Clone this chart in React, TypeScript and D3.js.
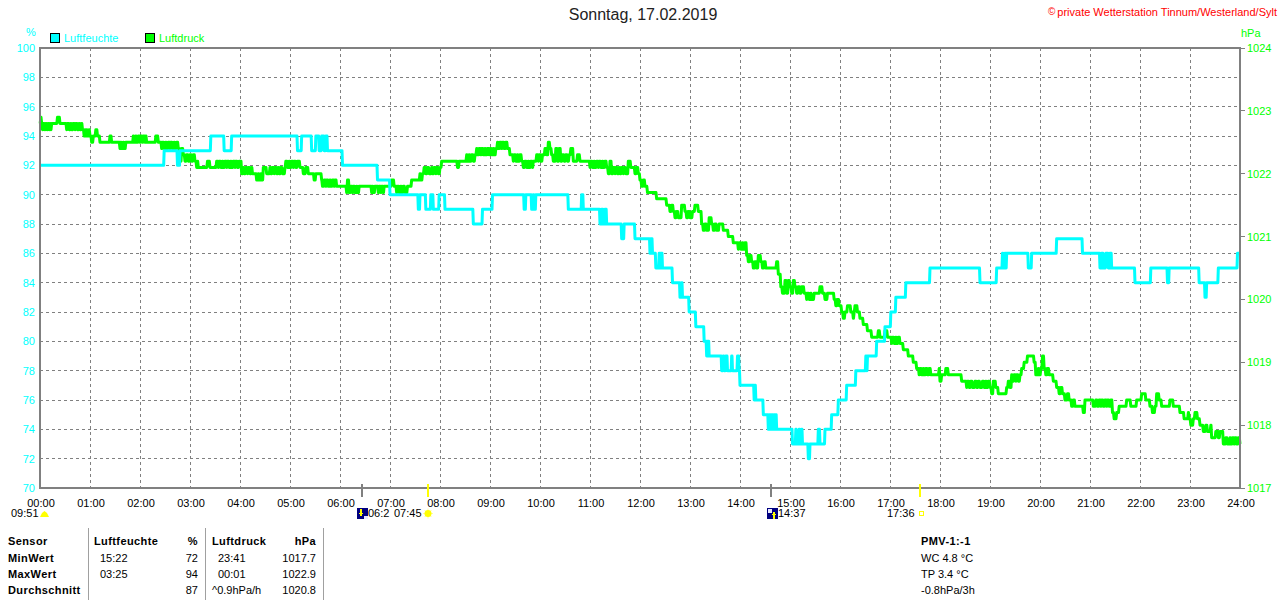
import React from "react";
import * as d3 from "d3";

const titleText = "Sonntag, 17.02.2019";
const creditText = "private Wetterstation Tinnum/Westerland/Sylt";
const hourLabels = ["00:00","01:00","02:00","03:00","04:00","05:00","06:00","07:00","08:00","09:00","10:00","11:00","12:00","13:00","14:00","15:00","16:00","17:00","18:00","19:00","20:00","21:00","22:00","23:00","24:00"];
const humidityTicks = [70,72,74,76,78,80,82,84,86,88,90,92,94,96,98,100];
const pressureTicks = [1017,1018,1019,1020,1021,1022,1023,1024];

// [minute of day, % relative humidity]
const humidity: [number, number][] = [
[0,92],[149,93],[165,92],[168,93],[205,94],[221,93],[230,94],[309,93],[314,94],[326,93],[331,94],[335,93],[338,94],[341,93],[343,94],[345,93],[363,92],[405,91],[420,90],
[454,89],[456,90],[463,89],[469,90],[472,89],[479,90],[486,89],[520,88],[531,89],[543,90],[581,89],[583,90],[590,89],[592,90],[593,89],[595,90],[634,89],[650,90],[652,89],
[672,88],[674,89],[676,88],[678,89],[680,88],[698,87],[701,88],[714,87],[732,86],[733,87],[735,86],[739,85],[743,86],[744,85],[745,86],[747,85],[759,84],[768,83],[770,84],[771,83],
[779,82],[787,81],[797,80],[800,79],[801,80],[803,79],[818,78],[820,79],[821,78],[823,79],[825,78],[830,79],[831,78],[834,78],[837,79],[839,78],[840,77],
[857,76],[858,77],[859,76],[868,75],[874,74],[875,75],[876,74],[877,75],[878,74],[879,75],[880,74],[881,75],[882,74],[883,75],[884,74],[903,73],[907,74],[908,73],[911,74],[912,73],[914,74],[915,73],
[922,72],[924,73],[934,74],[936,73],[942,74],[950,75],[958,76],[968,77],[979,78],[991,79],[992,78],[993,79],[1004,80],[1014,81],[1021,82],[1027,83],[1039,84],[1068,85],[1128,84],[1148,85],
[1155,86],[1156,85],[1158,86],[1159,85],[1160,86],[1186,85],[1190,86],[1220,87],[1251,86],[1272,85],[1274,86],[1276,85],[1279,86],[1282,85],[1284,86],[1286,85],[1314,84],[1333,85],[1353,84],[1355,85],
[1391,84],[1398,83],[1400,84],[1414,85],[1437,86],[1440,86],
];

// [minute of day, hPa]
const pressureEarly: [number, number][] = [
[0,1022.8],[1,1022.9],[2,1022.8],[3,1022.7],[4,1022.8],[5,1022.7],[6,1022.8],[7,1022.7],[8,1022.8],[9,1022.7],[10,1022.8],[11,1022.7],[12,1022.8],[13,1022.7],[14,1022.8],[21,1022.9],[24,1022.8],
[32,1022.7],[33,1022.8],[35,1022.7],[37,1022.8],[38,1022.7],[40,1022.8],[42,1022.7],[43,1022.8],[45,1022.7],[47,1022.8],[48,1022.7],[50,1022.8],[51,1022.7],[53,1022.6],[54,1022.7],[55,1022.6],[56,1022.7],[57,1022.6],[59,1022.7],[60,1022.6],
[62,1022.5],[64,1022.6],[67,1022.7],[69,1022.6],[72,1022.5],[84,1022.6],[86,1022.5],[96,1022.4],[97,1022.5],[98,1022.4],[100,1022.5],[101,1022.4],[103,1022.5],
[112,1022.6],[113,1022.5],[115,1022.6],[116,1022.5],[118,1022.6],[120,1022.5],[121,1022.6],[123,1022.5],[124,1022.6],[126,1022.5],[127,1022.6],[128,1022.5],[139,1022.6],[142,1022.5],
[146,1022.4],[147,1022.5],[149,1022.4],[151,1022.5],[152,1022.4],[154,1022.5],[156,1022.4],[157,1022.5],[159,1022.4],[161,1022.5],[162,1022.4],[164,1022.5],[166,1022.4],
[168,1022.2],[170,1022.4],[172,1022.3],[174,1022.2],[176,1022.3],[178,1022.2],[180,1022.3],[182,1022.2],[184,1022.3],[186,1022.2],[188,1022.1],[189,1022.2],[190,1022.1],[201,1022.2],[204,1022.1],
[212,1022.2],[214,1022.1],[215,1022.2],[217,1022.1],[219,1022.2],[220,1022.1],[222,1022.2],[224,1022.1],[225,1022.2],[227,1022.1],[229,1022.2],[230,1022.1],[232,1022.2],[234,1022.1],[235,1022.2],[237,1022.1],[239,1022.2],
[242,1022.0],[244,1022.1],[245,1022.0],[247,1022.1],[249,1022.0],[250,1022.1],[252,1022.0],[254,1022.1],[255,1022.0],
[260,1021.9],[262,1022.0],[263,1021.9],[265,1022.0],[266,1021.9],[268,1022.1],[272,1022.0],[276,1022.1],[277,1022.0],[279,1022.1],[281,1022.0],[282,1022.1],[284,1022.0],[286,1022.1],[287,1022.0],[289,1022.1],[291,1022.0],
[294,1022.1],[295,1022.2],[297,1022.1],[299,1022.2],[300,1022.1],[302,1022.2],[304,1022.1],[305,1022.2],[307,1022.1],[309,1022.2],[312,1022.1],[316,1022.0],[319,1022.1],[322,1022.0],[329,1021.9],[331,1022.0],
[338,1021.9],[339,1021.8],[341,1021.9],[343,1021.8],[344,1021.9],[346,1021.8],[348,1021.9],[349,1021.8],[351,1021.9],[353,1021.8],[354,1021.9],[356,1021.8],[368,1021.7],[369,1021.9],[371,1021.7],[373,1021.8],
[375,1021.7],[376,1021.8],[378,1021.7],[380,1021.8],[381,1021.7],[383,1021.8],[398,1021.7],[399,1021.8],[400,1021.7],[402,1021.8],[406,1021.7],[407,1021.8],[409,1021.7],[410,1021.8],[412,1021.7],[413,1021.8],[422,1021.9],[425,1021.8],
[428,1021.7],[429,1021.8],[431,1021.7],[433,1021.8],[434,1021.7],[436,1021.8],[438,1021.7],[441,1021.8],[446,1021.9],[456,1022.0],[457,1021.9],[459,1022.0],[461,1022.1],[463,1022.0],[465,1022.1],[467,1022.0],
[470,1022.1],[471,1022.0],[473,1022.1],[475,1022.0],[476,1022.1],[478,1022.0],[480,1022.1],[482,1022.2],
];
const pressureMidday: [number, number][] = [
[501,1022.1],[503,1022.2],[512,1022.3],[513,1022.2],[515,1022.3],[516,1022.2],[518,1022.3],[520,1022.2],[522,1022.3],
[524,1022.4],[525,1022.3],[527,1022.4],[529,1022.3],[530,1022.4],[532,1022.3],[534,1022.4],[535,1022.3],[537,1022.4],[539,1022.3],[540,1022.4],[542,1022.3],[544,1022.4],[545,1022.3],[547,1022.4],
[549,1022.5],[550,1022.4],[552,1022.5],[554,1022.4],[555,1022.5],[557,1022.4],[559,1022.5],[561,1022.4],[564,1022.3],[568,1022.2],[569,1022.3],[571,1022.2],[573,1022.3],[574,1022.2],[576,1022.3],
[578,1022.2],[580,1022.1],[582,1022.2],[584,1022.1],[586,1022.2],[587,1022.1],[589,1022.2],[591,1022.1],[592,1022.2],[596,1022.3],[598,1022.2],[599,1022.3],[601,1022.2],[603,1022.3],
[606,1022.4],[608,1022.3],[610,1022.5],[612,1022.4],[614,1022.3],[616,1022.2],[619,1022.4],[621,1022.2],[623,1022.4],[625,1022.2],[627,1022.3],[629,1022.2],[631,1022.3],[633,1022.2],[635,1022.3],[637,1022.4],[640,1022.2],[645,1022.3],[648,1022.2],
[660,1022.1],[661,1022.2],[663,1022.1],[665,1022.2],[666,1022.1],[668,1022.2],[670,1022.1],[671,1022.2],[673,1022.1],[675,1022.2],[676,1022.1],[678,1022.2],[680,1022.1],[682,1022.0],[684,1022.2],[686,1022.0],[688,1022.1],
[690,1022.0],[691,1022.1],[693,1022.0],[695,1022.1],[696,1022.0],[698,1022.1],[700,1022.0],[701,1022.1],[703,1022.0],[706,1022.2],[709,1022.1],[712,1022.1],[714,1022.0],[716,1022.1],[718,1022.0],
[720,1021.9],[722,1021.8],[724,1021.9],[726,1021.8],[729,1021.7],[740,1021.6],[752,1021.5],[756,1021.4],[758,1021.5],[760,1021.4],[762,1021.3],[764,1021.4],[766,1021.3],[770,1021.5],[774,1021.4],[776,1021.3],[778,1021.4],[780,1021.3],[783,1021.4],[786,1021.5],[790,1021.4],
[794,1021.2],[796,1021.1],[798,1021.2],[800,1021.1],[803,1021.3],[806,1021.2],[808,1021.1],[810,1021.2],[812,1021.1],[815,1021.2],[820,1021.1],[826,1021.0],[832,1020.9],
[838,1020.8],[839,1020.9],[841,1020.8],[843,1020.9],[844,1020.8],[846,1020.9],[848,1020.7],[850,1020.6],[852,1020.7],[854,1020.6],[856,1020.5],[858,1020.6],[860,1020.5],[862,1020.7],[865,1020.6],[867,1020.5],[869,1020.6],[871,1020.5],[884,1020.6],[886,1020.4],
];
const pressureAfternoon: [number, number][] = [
[889,1020.2],[891,1020.1],[894,1020.3],[896,1020.1],[898,1020.3],[900,1020.2],[902,1020.1],[904,1020.3],[906,1020.2],[908,1020.1],[910,1020.2],[912,1020.1],[914,1020.2],[917,1020.1],
[920,1020.0],[921,1020.1],[923,1020.0],[925,1020.1],[926,1020.0],[929,1020.1],[936,1020.2],[939,1020.1],[942,1020.0],[945,1020.1],[950,1020.1],[953,1020.0],[955,1019.9],[957,1020.0],[959,1019.9],[962,1019.8],[964,1019.7],[966,1019.8],[969,1019.9],[973,1019.8],[976,1019.7],[977,1019.8],[978,1019.9],[981,1019.8],
[984,1019.7],[988,1019.6],[993,1019.5],[998,1019.4],[1006,1019.5],[1008,1019.4],[1014,1019.5],[1017,1019.4],
[1022,1019.3],[1023,1019.4],[1025,1019.3],[1027,1019.4],[1028,1019.3],[1030,1019.4],[1032,1019.3],[1036,1019.2],[1042,1019.1],[1048,1019.0],[1052,1018.9],
[1055,1018.8],[1056,1018.9],[1058,1018.8],[1060,1018.9],[1061,1018.8],[1063,1018.9],[1065,1018.8],[1067,1018.9],[1069,1018.8],[1079,1018.9],[1080,1018.7],[1082,1018.8],[1087,1018.9],[1090,1018.8],[1106,1018.7],
[1112,1018.6],[1113,1018.7],[1115,1018.6],[1117,1018.7],[1119,1018.6],[1122,1018.7],[1124,1018.6],[1126,1018.7],[1128,1018.6],[1131,1018.7],[1133,1018.6],[1135,1018.7],[1136,1018.6],[1138,1018.7],[1140,1018.6],
[1142,1018.5],[1144,1018.7],[1147,1018.6],[1150,1018.5],[1160,1018.6],[1162,1018.7],[1164,1018.6],[1166,1018.8],[1167,1018.7],[1169,1018.8],[1171,1018.7],[1172,1018.8],[1174,1018.7],[1176,1018.8],[1178,1018.9],[1181,1019.0],[1185,1019.1],[1193,1019.0],[1195,1018.8],
];
const pressureEvening: [number, number][] = [
[1198,1018.9],[1199,1018.8],[1201,1018.9],[1203,1019.1],[1205,1018.9],[1207,1018.8],[1209,1018.9],[1211,1018.8],[1216,1018.7],[1220,1018.6],[1223,1018.5],[1225,1018.6],[1227,1018.5],[1230,1018.4],[1233,1018.5],[1235,1018.4],[1238,1018.3],[1240,1018.4],[1242,1018.3],
[1252,1018.2],[1254,1018.4],[1264,1018.3],[1267,1018.4],[1269,1018.3],[1271,1018.4],[1273,1018.3],[1274,1018.4],[1276,1018.3],[1278,1018.4],[1280,1018.3],[1281,1018.4],[1283,1018.3],[1285,1018.4],[1287,1018.2],[1289,1018.1],[1292,1018.2],[1295,1018.3],[1304,1018.4],[1309,1018.3],[1316,1018.4],[1322,1018.5],[1327,1018.4],[1332,1018.3],[1335,1018.2],[1338,1018.3],
[1340,1018.5],[1343,1018.4],[1346,1018.3],[1356,1018.4],[1360,1018.3],[1368,1018.2],[1373,1018.1],[1378,1018.2],[1379,1018.1],[1381,1018.0],[1384,1018.1],[1386,1018.2],[1389,1018.1],[1392,1018.0],[1396,1017.9],[1399,1018.0],[1401,1017.9],[1405,1018.0],[1406,1017.8],[1411,1017.9],[1414,1017.8],[1416,1017.9],[1420,1017.7],[1423,1017.8],[1425,1017.7],
[1428,1017.8],[1429,1017.7],[1431,1017.8],[1433,1017.7],[1434,1017.8],[1436,1017.7],[1438,1017.8],[1440,1017.7],
];
const pressure = [...pressureEarly, ...pressureMidday, ...pressureAfternoon, ...pressureEvening];

const sunMoonMarks = [
  { minute: 386, color: "#808080" },
  { minute: 465, color: "#ffff00" },
  { minute: 877, color: "#808080" },
  { minute: 1056, color: "#ffff00" },
];
const tableLabels = ["MinWert", "MaxWert", "Durchschnitt"];
const humidityTimes = ["15:22", "03:25", ""];
const humidityValues = ["72", "94", "87"];
const pressureTimes = ["23:41", "00:01", ""];
const pressureValues = ["1017.7", "1022.9", "1020.8"];
const comfortLines = ["WC 4.8 °C", "TP 3.4 °C", "-0.8hPa/3h"];

const CYAN = "#00ffff";
const GREEN = "#00ff00";
const GRAY = "#808080";
const FONT = "'Liberation Sans', Arial, sans-serif";

// A reading holds until the next one, then moves over a short ramp, as the logger's one-minute samples do.
function ramped(rows: [number, number][], ramp: number): [number, number][] {
  const out: [number, number][] = [];
  rows.forEach((d, i) => {
    if (i > 0) out.push([d[0] - ramp, rows[i - 1][1]]);
    out.push(d);
  });
  return out;
}

export default function App() {
  const x = d3.scaleLinear().domain([0, 1440]).range([40, 1240]);
  const yH = d3.scaleLinear().domain([70, 100]).range([488, 48]);
  const yP = d3.scaleLinear().domain([1017, 1024]).range([488, 48]);
  const hLine = d3.line<[number, number]>().x(d => x(d[0])).y(d => yH(d[1]));
  const pLine = d3.line<[number, number]>().x(d => x(d[0])).y(d => yP(d[1]));
  const rowY = [557.5, 573.5, 589.5];
  const sz = 11;
  const boldSpacing = 0.4;
  return (
    <svg width={1280} height={600} viewBox="0 0 1280 600" style={{ position: "absolute", left: 0, top: 0, display: "block", background: "#fff" }} fontFamily={FONT} fontSize={sz}>
      <text x={643} y={20} textAnchor="middle" fontSize={16} fill="#222">{titleText}</text>
      <text x={1048} y={15} fontSize={10} fill="#ff0000">©</text>
      <text x={1277} y={15.5} textAnchor="end" fontSize={11} fill="#ff0000">{creditText}</text>

      <text x={26} y={36} fill={CYAN}>%</text>
      <rect x={50.5} y={33.5} width={9} height={9} fill={CYAN} stroke="#000" />
      <text x={64} y={42} fill={CYAN}>Luftfeuchte</text>
      <rect x={145.5} y={33.5} width={9} height={9} fill={GREEN} stroke="#000" />
      <text x={159} y={42} fill={GREEN}>Luftdruck</text>
      <text x={1241} y={37} fill={GREEN}>hPa</text>

      <g shapeRendering="crispEdges">
        {hourLabels.slice(1, -1).map((_, i) => (
          <line key={i} x1={x((i + 1) * 60)} x2={x((i + 1) * 60)} y1={48} y2={488} stroke={GRAY} strokeDasharray="3 3" />
        ))}
        {humidityTicks.slice(1, -1).map(t => (
          <line key={t} x1={40} x2={1240} y1={yH(t)} y2={yH(t)} stroke={GRAY} strokeDasharray="3 3" />
        ))}
        {pressureTicks.map(t => (
          <line key={t} x1={1240} x2={1245} y1={yP(t)} y2={yP(t)} stroke={GRAY} />
        ))}
      </g>

      {humidityTicks.map(t => (
        <text key={t} x={35} y={yH(t) + 4} textAnchor="end" fill={CYAN}>{t}</text>
      ))}
      {pressureTicks.map(t => (
        <text key={t} x={1247} y={yP(t) + 4} fill={GREEN}>{t}</text>
      ))}
      {hourLabels.map((h, i) => (
        <text key={h} x={x(i * 60) + 1} y={507} textAnchor="middle" fill="#000">{h}</text>
      ))}

      <path d={pLine(ramped(pressure, 0.8)) ?? ""} fill="none" stroke={GREEN} strokeWidth={3} strokeLinejoin="round" />
      <path d={hLine(ramped(humidity, 0.6)) ?? ""} fill="none" stroke={CYAN} strokeWidth={3} strokeLinejoin="round" />

      <g shapeRendering="crispEdges">
        <rect x={39} y={47} width={2} height={442} fill={GRAY} />
        <rect x={1239} y={47} width={2} height={442} fill={GRAY} />
        <rect x={39} y={47} width={1202} height={2} fill={GRAY} />
        <rect x={39} y={487} width={1202} height={2} fill={GRAY} />
        {sunMoonMarks.map(m => (
          <rect key={m.minute} x={x(m.minute) - 1} y={484} width={2} height={13} fill={m.color} />
        ))}
      </g>

      <text x={11} y={517} fill="#000">09:51</text>
      <path d="M40 517 L42 513 L44.5 511 L47 513 L49 517 Z" fill="#ffff00" />

      <g shapeRendering="crispEdges">
        <rect x={357} y={508} width={10.5} height={11} fill="#000080" />
        <rect x={360} y={509} width={2} height={5} fill="#ffff00" />
        <path d="M358.5 513 L363.5 513 L361 516.5 Z" fill="#ffff00" />
        <rect x={364} y={516} width={3.5} height={3} fill="#e8e8ff" />
      </g>
      <text x={368} y={517} fill="#000">06:2</text>
      <text x={394} y={517} fill="#000">07:45</text>
      <g stroke="#ffff99" strokeWidth={1}>
        <line x1={423} y1={513.5} x2={433} y2={513.5} />
        <line x1={428} y1={508.5} x2={428} y2={518.5} />
        <line x1={424.5} y1={510} x2={431.5} y2={517} />
        <line x1={431.5} y1={510} x2={424.5} y2={517} />
      </g>
      <circle cx={428} cy={513.5} r={3.5} fill="#ffff00" />

      <g shapeRendering="crispEdges">
        <rect x={767} y={508} width={10.5} height={11} fill="#000080" />
        <rect x={768} y={509} width={3.5} height={3.5} fill="#e8e8ff" />
        <rect x={773} y={514} width={2} height={5} fill="#ffff00" />
        <path d="M771.5 515 L776.5 515 L774 511.5 Z" fill="#ffff00" />
      </g>
      <text x={778} y={517} fill="#000">14:37</text>
      <text x={887} y={517} fill="#000">17:36</text>
      <rect x={919.5} y={511.5} width={4} height={4} fill="#fff" stroke="#ffff00" shapeRendering="crispEdges" />

      <g shapeRendering="crispEdges" stroke="#a0a0a0">
        <line x1={88.5} x2={88.5} y1={528} y2={600} />
        <line x1={205.5} x2={205.5} y1={528} y2={600} />
        <line x1={323.5} x2={323.5} y1={528} y2={600} />
      </g>

      <g fill="#000">
        <g fontWeight="bold" letterSpacing={boldSpacing}>
          <text x={8} y={545}>Sensor</text>
          <text x={94} y={545}>Luftfeuchte</text>
          <text x={198} y={545} textAnchor="end">%</text>
          <text x={212} y={545}>Luftdruck</text>
          <text x={316} y={545} textAnchor="end">hPa</text>
          <text x={921} y={545}>PMV-1:-1</text>
          {tableLabels.map((l, i) => <text key={l} x={8} y={rowY[i] + 4}>{l}</text>)}
        </g>
        {humidityTimes.map((t, i) => <text key={i} x={100} y={rowY[i] + 4}>{t}</text>)}
        {humidityValues.map((t, i) => <text key={i} x={198} y={rowY[i] + 4} textAnchor="end">{t}</text>)}
        {pressureTimes.map((t, i) => <text key={i} x={218} y={rowY[i] + 4}>{t}</text>)}
        <text x={212} y={rowY[2] + 4}>^0.9hPa/h</text>
        {pressureValues.map((t, i) => <text key={i} x={316} y={rowY[i] + 4} textAnchor="end">{t}</text>)}
        {comfortLines.map((t, i) => <text key={i} x={921} y={rowY[i] + 4}>{t}</text>)}
      </g>
    </svg>
  );
}
